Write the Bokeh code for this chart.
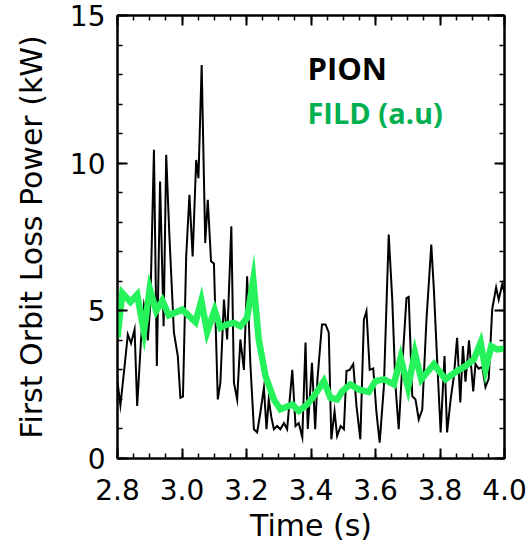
from bokeh.plotting import figure
from bokeh.models import Range1d, LinearAxis, FixedTicker, Label, CustomJSTickFormatter
from bokeh.embed import file_html
from bokeh.resources import INLINE

# ---- data ----
pion_t = [2.800, 2.809, 2.822, 2.832, 2.842, 2.853, 2.861, 2.873, 2.882, 2.889,
          2.894, 2.902, 2.913, 2.922, 2.932, 2.943, 2.951, 2.961, 2.975, 2.987,
          2.995, 3.003, 3.013, 3.023, 3.033, 3.044, 3.051, 3.061, 3.072, 3.080,
          3.090, 3.099, 3.111, 3.119, 3.130, 3.140, 3.153, 3.161, 3.171, 3.181,
          3.192, 3.202, 3.212, 3.223, 3.233, 3.243, 3.254, 3.262, 3.269, 3.277,
          3.285, 3.295, 3.305, 3.316, 3.326, 3.342, 3.352, 3.362, 3.373, 3.383,
          3.390, 3.403, 3.413, 3.420, 3.434, 3.445, 3.455, 3.463, 3.473, 3.481,
          3.492, 3.502, 3.510, 3.520, 3.531, 3.541, 3.553, 3.564, 3.572, 3.582,
          3.593, 3.603, 3.613, 3.626, 3.641, 3.652, 3.662, 3.672, 3.683, 3.696,
          3.703, 3.714, 3.724, 3.734, 3.745, 3.758, 3.773, 3.781, 3.791, 3.802,
          3.814, 3.822, 3.833, 3.843, 3.853, 3.863, 3.871, 3.879, 3.890, 3.903,
          3.910, 3.920, 3.931, 3.941, 3.951, 3.962, 3.974, 3.982, 3.993, 4.000]
pion_kw = [2.6, 1.8, 3.13, 4.2, 3.9, 4.37, 1.78, 4.03, 5.2, 4.82,
           4.0, 5.27, 10.45, 3.13, 9.38, 4.48, 10.28, 7.52, 4.26, 3.47,
           2.06, 2.1, 6.84, 8.93, 6.84, 10.11, 9.49, 13.32, 7.3, 8.76,
           6.68, 6.6, 2.0, 2.57, 5.38, 4.03, 7.86, 2.57, 2.0, 4.03,
           3.0, 6.17, 3.2, 0.99, 0.88, 1.55, 2.4, 0.99, 2.0, 1.4,
           0.99, 1.1, 0.99, 1.2, 0.99, 3.0, 1.1, 1.2, 0.72, 3.93,
           1.0, 3.24, 0.99, 2.68, 4.54, 4.54, 4.27, 0.65, 1.6, 0.76,
           1.1, 0.99, 2.96, 3.0, 3.2, 1.78, 0.65, 4.7, 4.99, 3.0,
           3.05, 1.55, 0.54, 2.45, 7.58, 5.38, 2.45, 0.99, 3.13, 5.43,
           5.47, 2.11, 2.0, 1.32, 1.66, 4.7, 7.24, 5.72, 3.36, 0.88,
           3.47, 0.88, 2.0, 2.78, 4.09, 1.9, 3.81, 2.6, 4.0, 2.27,
           3.2, 3.04, 3.1, 2.42, 2.7, 5.07, 5.79, 5.38, 5.9, 5.61]

fild_t = [2.800, 2.815, 2.840, 2.861, 2.882, 2.900, 2.920, 2.939, 2.959, 3.001,
          3.042, 3.060, 3.078, 3.101, 3.119, 3.140, 3.161, 3.181, 3.202, 3.221,
          3.238, 3.259, 3.285, 3.305, 3.342, 3.362, 3.388, 3.409, 3.440, 3.460,
          3.481, 3.497, 3.522, 3.548, 3.579, 3.600, 3.626, 3.657, 3.678, 3.701,
          3.722, 3.742, 3.781, 3.817, 3.853, 3.879, 3.905, 3.926, 3.941, 3.959,
          3.977, 4.000]
fild_au = [4.1, 5.6, 5.3, 5.55, 4.3, 5.75, 5.0, 5.35, 4.85, 5.04,
           4.62, 5.35, 4.28, 5.02, 4.43, 4.54, 4.59, 4.48, 4.76, 6.06,
           4.03, 2.79, 2.0, 1.67, 1.83, 1.61, 1.83, 2.11, 2.62, 2.06,
           2.0, 2.28, 2.51, 2.34, 2.25, 2.62, 2.68, 2.51, 3.41, 2.4,
           3.58, 2.68, 3.19, 2.68, 2.96, 3.13, 3.35, 3.92, 3.02, 3.8,
           3.69, 3.72]

x_ticks = [2.8, 3.0, 3.2, 3.4, 3.6, 3.8, 4.0]
x_tick_labels = ["2.8", "3.0", "3.2", "3.4", "3.6", "3.8", "4.0"]
x_minor = [round(2.8 + 0.05 * i, 2) for i in range(25)]
y_ticks = [0, 5, 10, 15]
y_tick_labels = ["0", "5", "10", "15"]
y_minor = list(range(0, 16))

x_label = "Time (s)"
y_label = "First Orbit Loss Power (kW)"
legend_pion = "PION"
legend_fild = "FILD (a.u)"

FONT = "DejaVu Sans"

p = figure(width=528, height=545, output_backend="svg", toolbar_location=None,
           x_range=Range1d(2.8, 4.0), y_range=Range1d(0, 15),
           min_border_left=117, min_border_right=24, min_border_top=15,
           min_border_bottom=85, x_axis_label=x_label, y_axis_label=y_label)
p.xgrid.visible = False
p.ygrid.visible = False
p.outline_line_color = "black"
p.outline_line_width = 2
p.background_fill_color = "white"
p.border_fill_color = "white"

def style_axis(ax, ticks, minor, labels=None):
    ax.ticker = FixedTicker(ticks=ticks, minor_ticks=minor)
    ax.axis_line_color = "black"
    ax.axis_line_width = 2
    ax.major_tick_in = 10
    ax.major_tick_out = 0
    ax.minor_tick_in = 5
    ax.minor_tick_out = 0
    ax.major_tick_line_width = 2
    ax.minor_tick_line_width = 1.5
    ax.major_tick_line_color = "black"
    ax.minor_tick_line_color = "black"
    ax.major_label_text_font = FONT
    ax.major_label_text_font_size = "28px"
    ax.major_label_text_color = "black"
    ax.axis_label_text_font = FONT
    ax.axis_label_text_font_size = "30px"
    ax.axis_label_text_font_style = "normal"
    ax.axis_label_text_color = "black"
    if labels is not None:
        ax.major_label_overrides = {t: l for t, l in zip(ticks, labels)}

style_axis(p.xaxis[0], x_ticks, x_minor, x_tick_labels)
p.xaxis[0].major_label_standoff = 20
p.xaxis[0].axis_label_standoff = 5
style_axis(p.yaxis[0], y_ticks, y_minor, y_tick_labels)
p.yaxis[0].major_label_standoff = 12
p.yaxis[0].axis_label_standoff = 18

top = LinearAxis()
style_axis(top, x_ticks, x_minor)
top.formatter = CustomJSTickFormatter(code="return ''")
top.major_label_standoff = 0
p.add_layout(top, "above")
right = LinearAxis()
style_axis(right, y_ticks, y_minor)
right.formatter = CustomJSTickFormatter(code="return ''")
right.major_label_standoff = 0
p.add_layout(right, "right")

p.line(pion_t, pion_kw, line_color="black", line_width=2, line_join="miter")
p.line(fild_t, fild_au, line_color="#26F25C", line_width=6.5, line_join="miter")

p.add_layout(Label(x=3.389, y=13.22, text=legend_pion, text_font="Open Sans",
                   text_font_style="bold", text_font_size="31px",
                   text_color="black", text_baseline="alphabetic"))
p.add_layout(Label(x=3.389, y=11.70, text=legend_fild, text_font="Open Sans",
                   text_font_style="bold", text_font_size="29px",
                   text_color="#00B050", text_baseline="alphabetic"))

open("out.html", "w").write(file_html(p, INLINE))
